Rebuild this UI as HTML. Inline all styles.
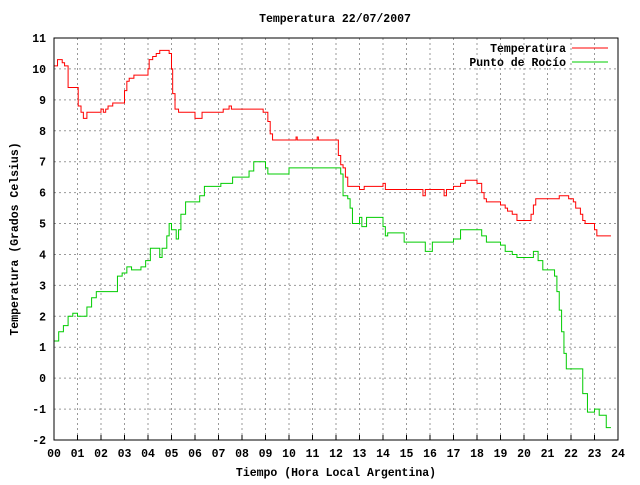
<!DOCTYPE html>
<html><head><meta charset="utf-8"><style>
body{margin:0;background:#fff}
svg text{font-family:"Liberation Mono",monospace;font-size:11.5px;font-weight:bold;fill:#000}
</style></head><body>
<svg id="c" width="640" height="480">
<text x="335" y="22" text-anchor="middle">Temperatura 22/07/2007</text>
<text x="336" y="476" text-anchor="middle">Tiempo (Hora Local Argentina)</text>
<text transform="translate(18,239) rotate(-90)" text-anchor="middle">Temperatura (Grados Celsius)</text>
<g id="grid"></g><g id="ticks"></g><g id="series"></g>
<rect x="54" y="38" width="564" height="402" fill="none" stroke="#000" stroke-width="1"/>
<g>
<text x="566" y="52" text-anchor="end">Temperatura</text>
<line x1="572" y1="48" x2="608" y2="48" stroke="#f00"/>
<text x="566" y="66" text-anchor="end">Punto de Rocío</text>
<line x1="572" y1="62" x2="608" y2="62" stroke="#0c0"/>
</g>
</svg>
<script>
const xTicks=["00","01","02","03","04","05","06","07","08","09","10","11","12","13","14","15","16","17","18","19","20","21","22","23","24"];
const yTicks=[-2,-1,0,1,2,3,4,5,6,7,8,9,10,11];
const tempHours=[0,0.15,0.35,0.45,0.6,1.03,1.15,1.25,1.4,2.0,2.1,2.2,2.3,2.5,3.0,3.1,3.2,3.4,3.5,4.0,4.05,4.2,4.35,4.5,4.9,5.0,5.05,5.15,5.3,6.0,6.3,7.2,7.45,7.55,8.9,9.1,9.2,9.3,10.3,10.35,11.2,11.25,12.1,12.2,12.3,12.4,12.5,12.6,13.0,13.2,14.0,14.1,15.7,15.8,15.9,16.6,16.7,17.0,17.3,17.5,18.0,18.2,18.3,18.4,18.5,19.0,19.2,19.3,19.5,19.7,20.3,20.4,20.5,20.7,21.5,21.9,22.1,22.2,22.4,22.5,22.6,23.0,23.1,23.2,23.7];
const tempValues=[10.1,10.3,10.2,10.1,9.4,8.8,8.6,8.4,8.6,8.7,8.6,8.7,8.8,8.9,9.3,9.6,9.7,9.8,9.8,10.0,10.3,10.4,10.5,10.6,10.5,10.0,9.2,8.7,8.6,8.4,8.6,8.7,8.8,8.7,8.6,8.3,7.9,7.7,7.8,7.7,7.8,7.7,7.2,6.9,6.8,6.5,6.2,6.2,6.1,6.2,6.3,6.1,5.9,6.1,6.1,5.9,6.1,6.2,6.3,6.4,6.3,6.0,5.8,5.7,5.7,5.6,5.5,5.4,5.3,5.1,5.3,5.6,5.8,5.8,5.9,5.8,5.7,5.5,5.3,5.1,5.0,4.8,4.6,4.6,4.6];
const dewHours=[0,0.2,0.4,0.6,0.8,1.0,1.3,1.4,1.6,1.8,2.6,2.7,2.9,3.1,3.3,3.7,3.9,4.0,4.1,4.5,4.6,4.8,4.9,5.0,5.2,5.3,5.4,5.6,6.1,6.2,6.4,7.0,7.1,7.6,8.1,8.3,8.5,8.9,9.0,9.1,9.8,10.0,12.0,12.2,12.3,12.5,12.6,12.7,13.0,13.1,13.3,14.0,14.1,14.2,14.9,15.8,16.1,17.0,17.3,18.0,18.2,18.4,19.0,19.2,19.5,19.7,20.2,20.4,20.6,20.8,21.3,21.4,21.5,21.6,21.7,21.8,22.3,22.5,22.7,23.0,23.2,23.5,23.7];
const dewValues=[1.2,1.5,1.7,2.0,2.1,2.0,2.0,2.3,2.6,2.8,2.8,3.3,3.4,3.6,3.5,3.6,3.8,3.8,4.2,3.9,4.2,4.6,5.0,4.8,4.5,4.8,5.3,5.7,5.7,5.9,6.2,6.2,6.3,6.5,6.5,6.7,7.0,7.0,6.8,6.6,6.6,6.8,6.8,6.6,5.9,5.8,5.5,5.0,5.2,4.9,5.2,4.9,4.6,4.7,4.4,4.1,4.4,4.5,4.8,4.8,4.6,4.4,4.3,4.1,4.0,3.9,3.9,4.1,3.8,3.5,3.3,2.8,2.2,1.5,0.8,0.3,0.3,-0.5,-1.1,-1.0,-1.2,-1.6,-1.6];
const NS="http://www.w3.org/2000/svg";
const L=54,R=618,T=38,B=440;
function xs(h){return L+(R-L)*h/24;}
function ys(v){return B-(B-T)*(v+2)/13;}
const grid=document.getElementById('grid'),ticks=document.getElementById('ticks'),series=document.getElementById('series');
function mk(tag,attrs,parent){const e=document.createElementNS(NS,tag);for(const k in attrs)e.setAttribute(k,attrs[k]);parent.appendChild(e);return e;}
xTicks.forEach((t,i)=>{
  const x=xs(i);
  if(i>0&&i<24){const g=mk('line',{x1:x,y1:T,x2:x,y2:B,stroke:'#999','stroke-dasharray':'2,3'},grid);
  
  }
  const l=mk('line',{x1:x,y1:B,x2:x,y2:B-5,stroke:'#000'},ticks);
  
  
  const tx=mk('text',{x:x,y:B+17,'text-anchor':'middle'},ticks);tx.textContent=t;
  
  
});
yTicks.forEach(v=>{
  const y=ys(v);
  if(v>-2&&v<11){const g=mk('line',{x1:L,y1:y,x2:R,y2:y,stroke:'#999','stroke-dasharray':'2,3'},grid);
  
  }
  const tx=mk('text',{x:46,y:y+4,'text-anchor':'end'},ticks);tx.textContent=v;
  
  
});
function stepPath(hs,vs){let d='M'+xs(hs[0])+','+ys(vs[0]);for(let i=1;i<hs.length;i++){d+='H'+xs(hs[i])+'V'+ys(vs[i]);}return d;}
const p1=mk('path',{d:stepPath(tempHours,tempValues),fill:'none',stroke:'#f00','stroke-width':1},series);


const p2=mk('path',{d:stepPath(dewHours,dewValues),fill:'none',stroke:'#0c0','stroke-width':1},series);


</script>
</body></html>
